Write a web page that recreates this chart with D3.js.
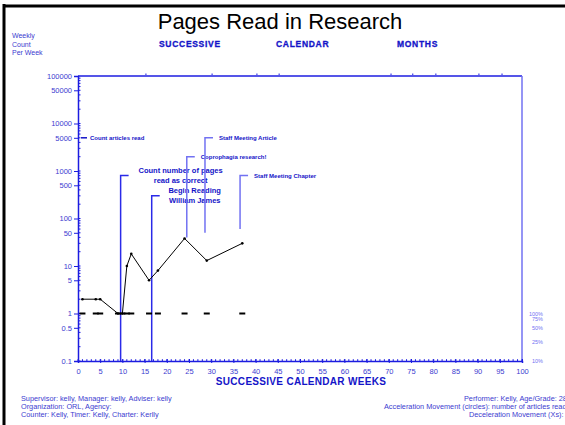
<!DOCTYPE html>
<html>
<head>
<meta charset="utf-8">
<script src="https://cdn.jsdelivr.net/npm/d3@7"></script>
<style>
  body { margin: 0; background: #fff; }
  svg { display: block; font-family: Arial, "Liberation Sans", sans-serif; }
</style>
</head>
<body>
<svg id="chart"></svg>
<script>
// weekly counts
const weeks = [1, 4, 5, 9, 10, 11, 12, 16, 18, 24, 29, 37];
const counts = [2, 2, 2, 1, 1, 10, 18, 5, 8, 38, 13, 30];
// record floor (1 per week) drawn as dashes
const floorValue = 1;

const yTickValues = [100000, 50000, 10000, 5000, 1000, 500, 100, 50, 10, 5, 1, 0.5, 0.1];
const xTickValues = d3.range(0, 101, 5);
const pctLabels = ["100%", "75%", "50%", "25%", "10%"];
const pctValues = [1, 0.75, 0.5, 0.25, 0.1];
const monthWeeks = [15.3, 30.2, 40.3, 45.3, 70.5, 75.4, 80.6, 90.3, 95.5];

// phase change lines: week, top value, bottom value
const phaseWeeks = [9.6, 16.6, 24.5, 28.6, 36.5];
const phaseTops = [800, 300, 2000, 5000, 800];
const phaseBottoms = [0.1, 0.1, 40, 50, 60];
const phaseLabels = [
  ["Count number of pages", "read as correct"],
  ["Begin Reading", "William James"],
  ["Coprophagia research!"],
  ["Staff Meeting Article"],
  ["Staff Meeting Chapter"]
];

const leftFooter = [
  "Supervisor: kelly, Manager: kelly, Adviser: kelly",
  "Organization: ORL, Agency:",
  "Counter: Kelly, Timer: Kelly, Charter: Kerlly"
];
const rightFooter = [
  "Performer: Kelly, Age/Grade: 28",
  "Acceleration Movement (circles): number of articles read",
  "Deceleration Movement (Xs):"
];

function draw() {
  let width = 565, height = 425;
  let svg = d3.select("#chart").attr("width", width).attr("height", height);

  const axisBlue = "#1c1ce0", labelBlue = "#3c3cd0", noteBlue = "#1414c8", lightBlue = "#7272f2";

  let x = d3.scaleLinear().domain([0, 100]).range([78, 522]);
  let y = d3.scaleLog().domain([0.1, 100000]).range([361, 76]);

  // page border
  svg.append("line").attr("x1", 4).attr("x2", 4).attr("y1", 4).attr("y2", height)
    .attr("stroke", "#000").attr("stroke-width", 3);
  svg.append("line").attr("x1", 3).attr("x2", width).attr("y1", 6).attr("y2", 6)
    .attr("stroke", "#000").attr("stroke-width", 3);

  svg.append("text").attr("x", 280).attr("y", 29).attr("text-anchor", "middle")
    .attr("font-size", 22).attr("fill", "#000").text("Pages Read in Research");

  svg.append("g").selectAll("text").data(["Weekly", "Count", "Per Week"]).join("text")
    .attr("x", 12).attr("y", (d, i) => 38 + i * 8.5)
    .attr("font-size", 7).attr("fill", labelBlue).text(d => d);

  svg.append("g").selectAll("text").data(["SUCCESSIVE", "CALENDAR", "MONTHS"]).join("text")
    .attr("x", (d, i) => [159, 276, 397][i]).attr("y", 47)
    .attr("font-size", 8.5).attr("font-weight", "bold").attr("letter-spacing", 0.7)
    .attr("fill", noteBlue).attr("stroke", noteBlue).attr("stroke-width", 0.3)
    .text(d => d);

  // frame
  svg.append("line").attr("x1", x(0)).attr("x2", x(100)).attr("y1", y(100000)).attr("y2", y(100000))
    .attr("stroke", axisBlue).attr("stroke-width", 1.5);
  svg.append("line").attr("x1", x(100)).attr("x2", x(100)).attr("y1", y(100000)).attr("y2", y(0.1))
    .attr("stroke", lightBlue).attr("stroke-width", 1.5);

  svg.append("g").selectAll("line").data(monthWeeks).join("line")
    .attr("x1", d => x(d)).attr("x2", d => x(d))
    .attr("y1", y(100000) - 2.5).attr("y2", y(100000) - 1)
    .attr("stroke", axisBlue).attr("stroke-width", 1);

  // y axis
  let yAxis = svg.append("g").attr("transform", `translate(${x(0)},0)`)
    .call(d3.axisLeft(y).tickValues(yTickValues).tickSize(4).tickPadding(2)
      .tickFormat(d3.format("~g")));
  yAxis.select(".domain").attr("stroke", axisBlue).attr("stroke-width", 1.5);
  yAxis.selectAll(".tick line").attr("stroke", axisBlue);
  yAxis.selectAll(".tick text").attr("fill", labelBlue).attr("font-size", 7.5)
    .attr("font-family", "Arial, 'Liberation Sans', sans-serif");

  let minor = [];
  for (let e = -1; e < 5; e++) for (let m = 1; m < 10; m++) minor.push(m * Math.pow(10, e));
  svg.append("g").selectAll("line").data(minor).join("line")
    .attr("x1", x(0)).attr("x2", d => x(0) + 2.5)
    .attr("y1", d => y(d)).attr("y2", d => y(d))
    .attr("stroke", axisBlue).attr("stroke-width", 1);

  // x axis
  let xAxis = svg.append("g").attr("transform", `translate(0,${y(0.1)})`)
    .call(d3.axisBottom(x).tickValues(xTickValues).tickSize(2).tickPadding(6));
  xAxis.select(".domain").attr("stroke", axisBlue).attr("stroke-width", 1.5);
  xAxis.selectAll(".tick line").attr("stroke", axisBlue).attr("y1", -2);
  xAxis.selectAll(".tick text").attr("fill", labelBlue).attr("font-size", 7.5)
    .attr("font-family", "Arial, 'Liberation Sans', sans-serif");
  svg.append("g").selectAll("line").data(d3.range(0, 101)).join("line")
    .attr("x1", d => x(d)).attr("x2", d => x(d))
    .attr("y1", y(0.1) - 1.8).attr("y2", y(0.1))
    .attr("stroke", axisBlue).attr("stroke-width", 1);

  // right percentage labels
  svg.append("g").selectAll("text").data(pctValues).join("text")
    .attr("x", 543).attr("y", d => y(d) + 2).attr("text-anchor", "end")
    .attr("font-size", 5.5).attr("fill", lightBlue).text((d, i) => pctLabels[i]);

  svg.append("text").attr("x", 301).attr("y", 385).attr("text-anchor", "middle")
    .attr("font-size", 10).attr("font-weight", "bold").attr("letter-spacing", 0.3)
    .attr("fill", noteBlue).text("SUCCESSIVE CALENDAR WEEKS");

  // note at 5000
  svg.append("line").attr("x1", x(0) + 3).attr("x2", x(0) + 9)
    .attr("y1", y(5000)).attr("y2", y(5000)).attr("stroke", noteBlue).attr("stroke-width", 1.5);
  svg.append("text").attr("x", x(0) + 12).attr("y", y(5000) + 2)
    .attr("font-size", 6).attr("font-weight", "bold").attr("fill", noteBlue)
    .text("Count articles read");

  // phase change lines
  phaseWeeks.forEach(function (w, i) {
    let px = x(w), top = y(phaseTops[i]), bot = y(phaseBottoms[i]);
    let col = i < 2 ? "#2a2ae8" : lightBlue;
    svg.append("path")
      .attr("d", `M${px},${bot}V${top}H${px + 8}`)
      .attr("fill", "none").attr("stroke", col).attr("stroke-width", 1.5);
    let lines = phaseLabels[i];
    if (lines.length === 2) {
      let cx = i === 0 ? px + 60 : px + 43;
      svg.append("g").selectAll("text").data(lines).join("text")
        .attr("x", cx).attr("y", (d, j) => top - 3 + j * 10.5)
        .attr("text-anchor", "middle").attr("font-size", 7.5).attr("font-weight", "bold")
        .attr("fill", noteBlue).text(d => d);
    } else {
      svg.append("text").attr("x", px + 14).attr("y", top + 2.5)
        .attr("font-size", 6).attr("font-weight", "bold")
        .attr("fill", noteBlue).text(lines[0]);
    }
  });

  // floor dashes
  svg.append("g").selectAll("line").data(weeks).join("line")
    .attr("x1", d => x(d) - 3).attr("x2", d => x(d) + 3)
    .attr("y1", y(floorValue)).attr("y2", y(floorValue))
    .attr("stroke", "#000").attr("stroke-width", 2);

  // data line
  let pts = weeks.map((w, i) => [w, counts[i]]);
  svg.append("path").datum(pts)
    .attr("d", d3.line().x(d => x(d[0])).y(d => y(d[1])))
    .attr("fill", "none").attr("stroke", "#000").attr("stroke-width", 1);
  svg.append("g").selectAll("circle").data(pts).join("circle")
    .attr("cx", d => x(d[0])).attr("cy", d => y(d[1])).attr("r", 1.3).attr("fill", "#000");

  // footers
  svg.append("g").selectAll("text").data(leftFooter).join("text")
    .attr("x", 21).attr("y", (d, i) => 401 + i * 8)
    .attr("font-size", 7.3).attr("fill", labelBlue).text(d => d);
  svg.append("g").selectAll("text").data(rightFooter).join("text")
    .attr("x", (d, i) => [464, 384, 469][i]).attr("y", (d, i) => 401 + i * 8)
    .attr("font-size", 7.3).attr("fill", labelBlue).text(d => d);
}

draw();
</script>
</body>
</html>
